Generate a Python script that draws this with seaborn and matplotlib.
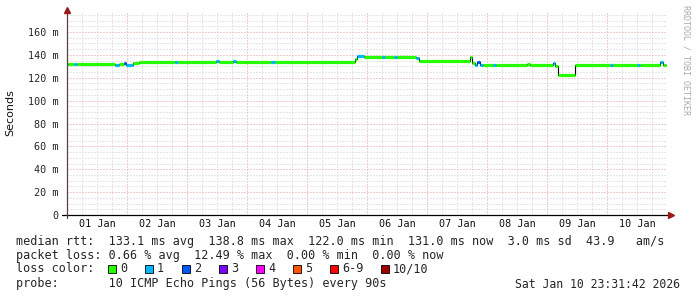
import numpy as np
import pandas as pd
import matplotlib
matplotlib.use("Agg")
import matplotlib.pyplot as plt
import matplotlib.transforms as mtransforms
from matplotlib.patches import Rectangle
from matplotlib.ticker import MultipleLocator, FixedLocator, NullFormatter
import seaborn as sns

# ---------------- data (days since 01 Jan 00:00) ----------------
seg_start = [0.00, 0.02, 0.12, 0.16, 0.80, 0.86, 0.95, 0.99, 1.10, 1.20,
             1.80, 1.85, 2.48, 2.53, 2.76, 2.82, 3.40, 3.46, 4.80, 4.84,
             4.95, 5.25, 5.30, 5.45, 5.50, 5.82, 5.87, 6.72, 6.75, 6.80,
             6.84, 6.88, 6.93, 7.10, 7.15, 7.66, 7.72, 8.10, 8.14, 8.18,
             8.47, 9.05, 9.10, 9.50, 9.55, 9.88, 9.94]
seg_end = [0.02, 0.12, 0.16, 0.80, 0.86, 0.95, 0.99, 1.10, 1.20, 1.80,
           1.85, 2.48, 2.53, 2.76, 2.82, 3.40, 3.46, 4.80, 4.84, 4.95,
           5.25, 5.30, 5.45, 5.50, 5.82, 5.87, 6.72, 6.75, 6.80, 6.84,
           6.88, 6.93, 7.10, 7.15, 7.66, 7.72, 8.10, 8.14, 8.18, 8.47,
           9.05, 9.10, 9.50, 9.55, 9.88, 9.94, 9.98]
seg_rtt = [132.0, 132.0, 132.0, 132.0, 131.5, 132.0, 133.0, 131.0, 133.0, 134.0,
           134.0, 134.0, 134.5, 134.0, 134.5, 134.0, 134.0, 134.0, 136.0, 138.8,
           138.5, 138.5, 138.3, 138.3, 138.0, 137.0, 135.0, 138.5, 133.0, 131.5,
           133.5, 131.0, 131.0, 131.5, 131.0, 132.0, 131.0, 133.0, 130.0, 122.0,
           131.0, 131.0, 131.0, 131.0, 131.0, 134.0, 131.0]
seg_loss = [1, 0, 1, 0, 1, 0, 2, 1, 0, 0,
            1, 0, 1, 0, 1, 0, 1, 0, 0, 1,
            0, 1, 0, 1, 0, 1, 0, 0, 0, 1,
            2, 1, 0, 1, 0, 0, 0, 1, 0, 0,
            0, 1, 0, 1, 0, 1, 0]

day_labels = ["01 Jan", "02 Jan", "03 Jan", "04 Jan", "05 Jan",
              "06 Jan", "07 Jan", "08 Jan", "09 Jan", "10 Jan"]
y_ticks = [0, 20, 40, 60, 80, 100, 120, 140, 160]
y_tick_labels = ["0", "20 m", "40 m", "60 m", "80 m", "100 m", "120 m", "140 m", "160 m"]

loss_labels = ["0", "1", "2", "3", "4", "5", "6-9", "10/10"]
loss_colors = ["#26ff00", "#00b8ff", "#0059ff", "#7e00ff",
               "#ff00ff", "#ff5500", "#ff0000", "#a10000"]

line_rtt = "median rtt:  133.1 ms avg  138.8 ms max  122.0 ms min  131.0 ms now  3.0 ms sd  43.9   am/s"
line_loss = "packet loss: 0.66 % avg  12.49 % max  0.00 % min  0.00 % now"
line_color = "loss color:"
line_probe = "probe:       10 ICMP Echo Pings (56 Bytes) every 90s"
timestamp = "Sat Jan 10 23:31:42 2026"
watermark = "RRDTOOL / TOBI OETIKER"
y_label = "Seconds"

# ---------------- figure ----------------
sns.set_style("white")
plt.rcParams["font.family"] = ["DejaVu Sans"]
MONO = "DejaVu Sans Mono"

W, H = 697, 297
fig = plt.figure(figsize=(W / 100, H / 100), dpi=100)
fig.patch.set_facecolor("white")

ax_l, ax_r, ax_b, ax_t = 67, 667, 215, 12
ax = fig.add_axes([ax_l / W, 1 - ax_b / H, (ax_r - ax_l) / W, (ax_b - ax_t) / H])
ax.set_facecolor("white")
ax.set_xlim(0, 10)
ax.set_ylim(0, 177.5)

# grid
ax.xaxis.set_major_locator(MultipleLocator(1))
ax.xaxis.set_minor_locator(MultipleLocator(0.25))
ax.yaxis.set_major_locator(FixedLocator(y_ticks))
ax.yaxis.set_minor_locator(MultipleLocator(5))
ax.grid(which="minor", color="#cfcfcf", linestyle=(0, (1, 2)), lw=0.72)
ax.grid(which="major", color="#e89a9a", linestyle=(0, (1, 2)), lw=0.72)
ax.set_axisbelow(True)

ax.xaxis.set_major_formatter(NullFormatter())
ax.set_yticklabels(y_tick_labels, fontfamily=MONO, fontsize=7.3)
ax.tick_params(axis="y", which="major", length=3.5, width=0.7, color="#555555", pad=2.5)
ax.tick_params(axis="x", which="major", length=2.5, width=0.7, color="#999999")
ax.tick_params(which="minor", length=0)
for s in ax.spines.values():
    s.set_visible(False)

# step path (black) via seaborn
xs, ys, order = [], [], []
k = 0
for s, e, r in zip(seg_start, seg_end, seg_rtt):
    xs += [s, e]
    ys += [r, r]
    order += [k, k + 1]
    k += 2
df = pd.DataFrame({"t": xs, "rtt": ys, "o": order})
sns.lineplot(data=df, x="t", y="rtt", sort=False, estimator=None,
             color="black", lw=0.8, ax=ax, zorder=3)
# coloured median segments by loss
for s, e, r, l in zip(seg_start, seg_end, seg_rtt, seg_loss):
    ax.hlines(r, s, e, colors=loss_colors[l], lw=2.3, zorder=4)
ax.set_xlabel("")
ax.set_ylabel("")

# axes lines + arrows
ax.plot([-0.008, 1.005], [0, 0], color="black", lw=0.9, transform=ax.transAxes,
        clip_on=False, zorder=5)
ax.plot([0, 0], [-0.015, 1.0], color="#5a4040", lw=0.9, transform=ax.transAxes,
        clip_on=False, zorder=5)
ax.plot([1.007], [0], marker=">", ms=4.5, color="#9a1a1a", transform=ax.transAxes,
        clip_on=False, zorder=6)
ax.plot([0], [1.012], marker="^", ms=4.5, color="#9a1a1a", transform=ax.transAxes,
        clip_on=False, zorder=6)

# date labels centred at noon
trans = mtransforms.blended_transform_factory(ax.transData, ax.transAxes)
for i, lab in enumerate(day_labels):
    ax.text(i + 0.5, -9 / 203, lab, transform=trans, ha="center", va="center",
            fontfamily=MONO, fontsize=7.3, color="#111111")

# y label and watermark
fig.text(10 / W, 1 - 113 / H, y_label, rotation=90, ha="center", va="center",
         fontsize=8, color="#111111")
fig.text(686 / W, 1 - 5 / H, watermark, rotation=270, ha="center", va="top",
         fontfamily=MONO, fontsize=6, color="#aaaaaa")

# legend text block
fs = 8.5
fig.text(16 / W, 1 - 241 / H, line_rtt, ha="left", va="center", fontfamily=MONO, fontsize=fs)
fig.text(16 / W, 1 - 256 / H, line_loss, ha="left", va="center", fontfamily=MONO, fontsize=fs)
fig.text(16 / W, 1 - 269 / H, line_color, ha="left", va="center", fontfamily=MONO, fontsize=fs)
fig.text(16 / W, 1 - 284 / H, line_probe, ha="left", va="center", fontfamily=MONO, fontsize=fs)
fig.text(680 / W, 1 - 284 / H, timestamp, ha="right", va="center", fontfamily=MONO, fontsize=8.3)

x = 108
for lab, col in zip(loss_labels, loss_colors):
    fig.add_artist(Rectangle((x / W, 1 - 273 / H), 8 / W, 8 / H, facecolor=col,
                             edgecolor="black", lw=0.6, transform=fig.transFigure))
    fig.text((x + 12) / W, 1 - 269 / H, lab, ha="left", va="center",
             fontfamily=MONO, fontsize=fs)
    x += 37 + 7 * (len(lab) - 1)

fig.savefig("out.png", dpi=100, facecolor="white")
